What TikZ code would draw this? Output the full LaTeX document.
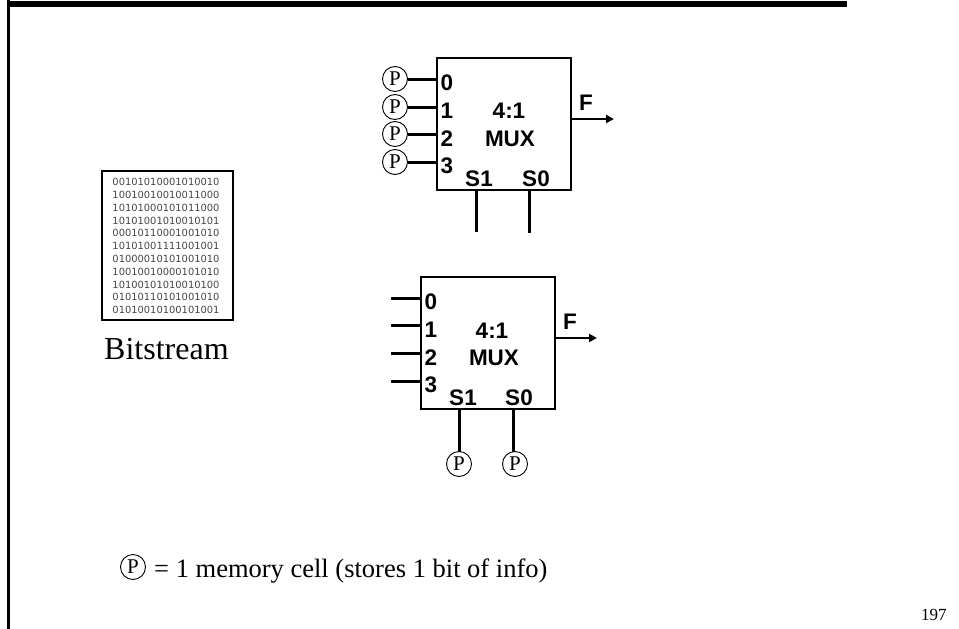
\documentclass[tikz,border=0pt]{standalone}
\usepackage{fontspec}
\setmainfont{Liberation Serif}
\setsansfont{Liberation Sans}
\newfontfamily\bitsfont{DejaVu Sans}
\usetikzlibrary{arrows.meta}
\definecolor{bitgray}{RGB}{70,70,70}
\tikzset{
  muxbox/.style={draw,line width=2.4pt,minimum width=134pt,minimum height=132pt,inner sep=0pt,outer sep=0pt},
  cell/.style={draw,circle,line width=0.9pt,minimum size=25pt,inner sep=0pt,outer sep=0pt,font=\fontsize{21}{21}\selectfont},
  wire/.style={line width=3pt},
  outwire/.style={line width=2.2pt,-{Triangle[length=8pt,width=8pt]}},
  lab/.style={font=\sffamily\bfseries\fontsize{22.5}{22.5}\selectfont,inner sep=0pt,anchor=center},
  bits/.style={font=\bitsfont\fontsize{9.9}{12.8}\selectfont,text=bitgray,align=center,inner sep=0pt},
  body/.style={inner sep=0pt,anchor=base west},
}
\begin{document}
\begin{tikzpicture}[x=1pt,y=-1pt]
\useasboundingbox (0,0) rectangle (959,629);
% frame
\fill[black] (7,0.7) rectangle (847,6.8);
\fill[black] (7.3,0) rectangle (9.7,629);
% upper mux
\node[muxbox] (muxa) at (504,124) {};
\node[lab] at (447,83) {0};
\node[lab] at (447,111) {1};
\node[lab] at (447,139) {2};
\node[lab] at (447,166) {3};
\node[lab] at (509,111) {4:1};
\node[lab] at (510,139) {MUX};
\node[lab] at (586,103) {F};
\node[lab] at (479,179) {S1};
\node[lab] at (536,179) {S0};
\foreach \n/\y in {0/79,1/107,2/134,3/162}{
  \node[cell] (pa\n) at (395,\y) {P};
  \coordinate (ia\n) at (437,\y);
  \draw[wire] (pa\n) -- (ia\n);
}
\coordinate (fa) at (571,119);
\coordinate (fae) at (614,119);
\draw[outwire] (fa) -- (fae);
\coordinate (sa1) at (476,190);
\coordinate (sa1e) at (476,232);
\coordinate (sa0) at (529,190);
\coordinate (sa0e) at (529,233);
\draw[wire] (sa1) -- (sa1e);
\draw[wire] (sa0) -- (sa0e);
% lower mux
\node[muxbox] (muxb) at (488,343) {};
\node[lab] at (431,302) {0};
\node[lab] at (431,330) {1};
\node[lab] at (431,358) {2};
\node[lab] at (431,385) {3};
\node[lab] at (492,331) {4:1};
\node[lab] at (494,358) {MUX};
\node[lab] at (570,322) {F};
\node[lab] at (463,398) {S1};
\node[lab] at (519,398) {S0};
\foreach \n/\y in {0/298,1/325,2/353,3/381}{
  \coordinate (sb\n) at (391,\y);
  \coordinate (ib\n) at (421,\y);
  \draw[wire] (sb\n) -- (ib\n);
}
\coordinate (fb) at (555,338);
\coordinate (fbe) at (597,338);
\draw[outwire] (fb) -- (fbe);
\node[cell] (pb1) at (459,464) {P};
\node[cell] (pb0) at (515,464) {P};
\coordinate (sb1t) at (459,409);
\coordinate (sb0t) at (513,409);
\draw[wire] (sb1t) -- (pb1);
\draw[wire] (sb0t) -- (sb0t |- pb0.north);
% bitstream
\node[draw,line width=1.8pt,minimum width=131pt,minimum height=149pt,inner sep=0pt] (bitbox) at (167.5,245.5) {};
\node[bits] (bittext) at (166,246) {00101010001010010\\
10010010010011000\\
10101000101011000\\
10101001010010101\\
00010110001001010\\
10101001111001001\\
01000010101001010\\
10010010000101010\\
10100101010010100\\
01010110101001010\\
01010010100101001};
\node[body,font=\fontsize{32}{32}\selectfont] (bitlabel) at (104,359) {Bitstream};
% legend
\node[cell] (legcell) at (133,567) {P};
\node[body,font=\fontsize{26.5}{26.5}\selectfont] (legtext) at (154,577) {= 1 memory cell (stores 1 bit of info)};
\node[body,font=\fontsize{17}{17}\selectfont] (pageno) at (921,620) {197};
\end{tikzpicture}
\end{document}
